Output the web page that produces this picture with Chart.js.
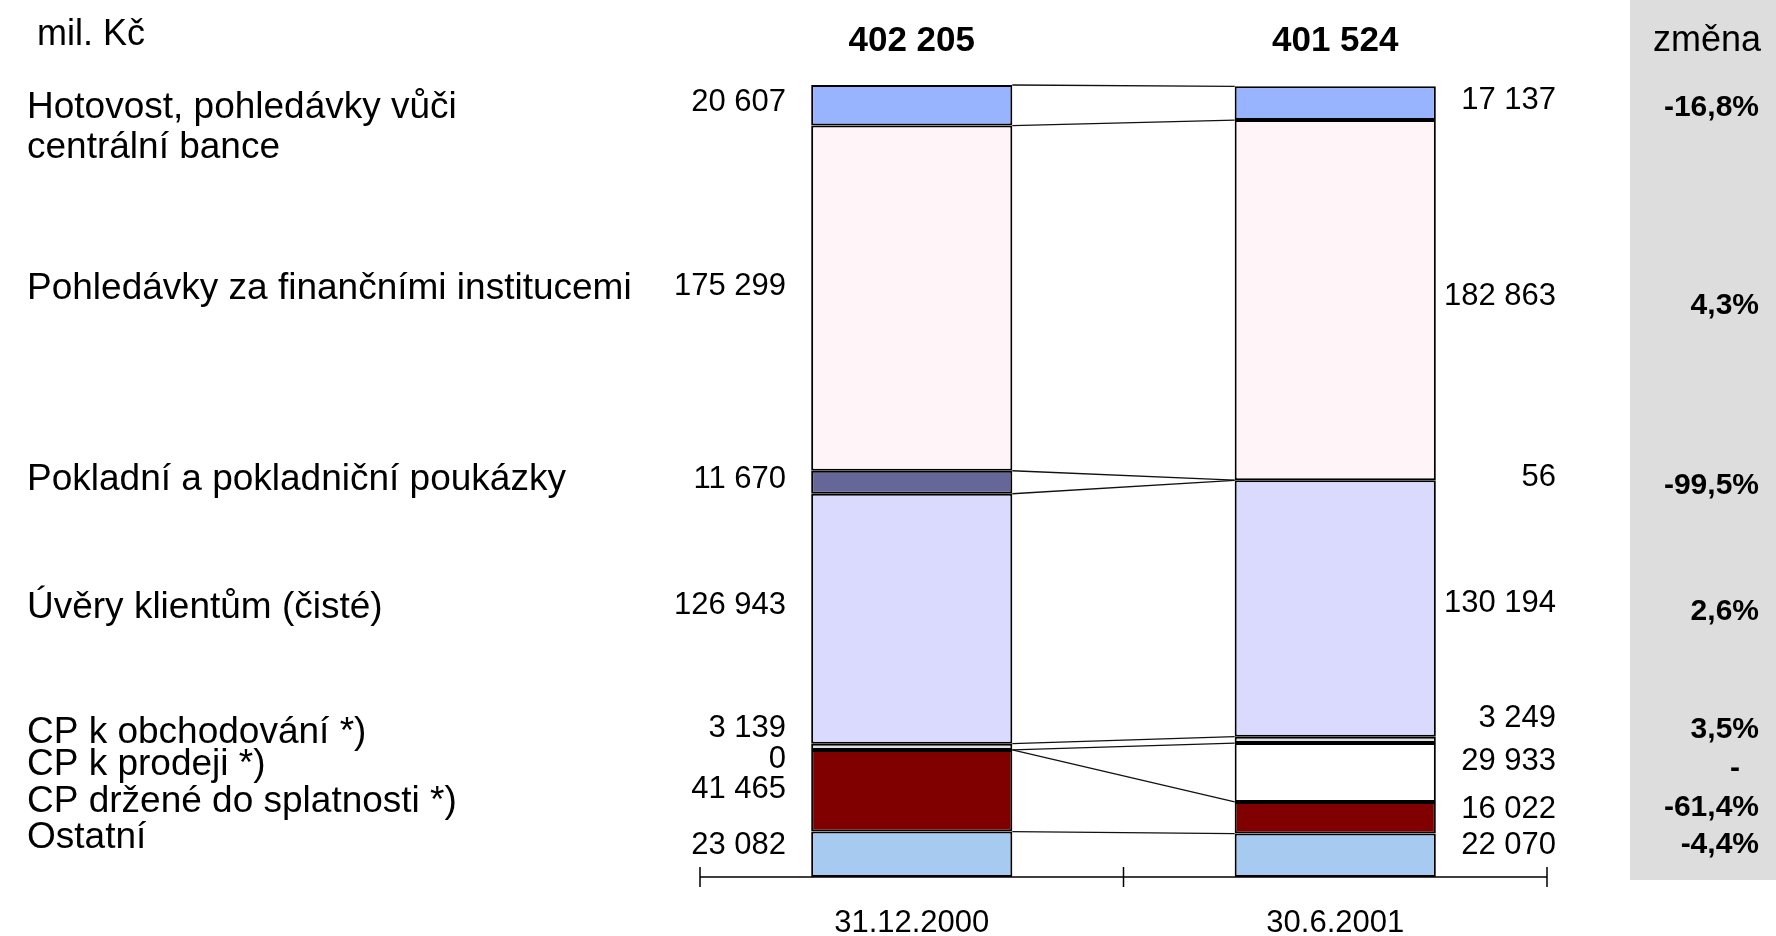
<!DOCTYPE html>
<html>
<head>
<meta charset="utf-8">
<script src="https://cdn.jsdelivr.net/npm/chart.js@4"></script>
<style>
  html, body { margin: 0; padding: 0; background: #fff; }
</style>
</head>
<body>
<canvas id="assetsChart" width="1776" height="936"></canvas>
<script>
// rows top to bottom, as they are listed in the picture
var categories = [
  ['Hotovost, pohledávky vůči', 'centrální bance'],
  ['Pohledávky za finančními institucemi'],
  ['Pokladní a pokladniční poukázky'],
  ['Úvěry klientům (čisté)'],
  ['CP k obchodování *)'],
  ['CP k prodeji *)'],
  ['CP držené do splatnosti *)'],
  ['Ostatní']
];
var dates = ['31.12.2000', '30.6.2001'];
var values2000 = [20607, 175299, 11670, 126943, 3139, 0, 41465, 23082];
var values2001 = [17137, 182863, 56, 130194, 3249, 29933, 16022, 22070];
var changes = ['-16,8%', '4,3%', '-99,5%', '2,6%', '3,5%', '-', '-61,4%', '-4,4%'];

var colors = ['#99b4ff', '#fff5f8', '#666699', '#dadaff', '#e0e0e0', '#ffffff', '#800000', '#a6caf0'];

// text placement (px) - the labels in the original are not centred on the segments
var labelY = [[108, 148], [289], [480], [608], [733], [765], [802], [838]];
var leftValueY = [102, 286, 479, 605, 728, 759, 789, 845];
var rightValueY = [100, 296, 477, 603, 718, 761, 809, 845];
var changeY = [108, 306, 486, 612, 730, 769, 808, 845];

var FONT = "'Liberation Sans', Arial, sans-serif";

function fmt(v) {
  return String(v).replace(/\B(?=(\d{3})+(?!\d))/g, ' ');
}
function sum(a) {
  return a.reduce(function (s, v) { return s + v; }, 0);
}
var totals = [sum(values2000), sum(values2001)];

// stacked bottom-up, so the last row goes first
var datasets = [];
for (var i = categories.length - 1; i >= 0; i--) {
  datasets.push({
    label: categories[i].join(' '),
    data: [values2000[i], values2001[i]],
    backgroundColor: colors[i],
    borderColor: '#000',
    borderWidth: 2,
    borderSkipped: false
  });
}

var decor = {
  id: 'decor',
  beforeDraw: function (chart) {
    var c = chart.ctx;
    c.save();
    c.fillStyle = '#dddddd';
    c.fillRect(1630, 0, 146, 880);
    c.restore();
  },
  afterDatasetsDraw: function (chart) {
    var c = chart.ctx;
    var area = chart.chartArea;
    var xs = chart.scales.x;
    c.save();
    // lines joining the segment edges of both bars
    c.strokeStyle = '#111';
    c.lineWidth = 1.3;
    chart.data.datasets.forEach(function (ds, i) {
      var m = chart.getDatasetMeta(i).data;
      var a = m[0], b = m[1];
      c.beginPath();
      c.moveTo(a.x + a.width / 2, a.y);
      c.lineTo(b.x - b.width / 2, b.y);
      c.stroke();
    });
    // axis line and ticks
    c.strokeStyle = '#000';
    c.lineWidth = 1.5;
    c.beginPath();
    c.moveTo(xs.left, area.bottom);
    c.lineTo(xs.right, area.bottom);
    var mid = (xs.getPixelForValue(0) + xs.getPixelForValue(1)) / 2;
    [xs.left, mid, xs.right].forEach(function (x) {
      c.moveTo(x, area.bottom - 10);
      c.lineTo(x, area.bottom + 10);
    });
    c.stroke();
    c.restore();
  },
  afterDraw: function (chart) {
    var c = chart.ctx;
    var xs = chart.scales.x;
    c.save();
    c.fillStyle = '#000';
    c.textBaseline = 'middle';

    c.font = '36px ' + FONT;
    c.textAlign = 'left';
    c.fillText('mil. Kč', 37, 35);

    c.font = '37px ' + FONT;
    categories.forEach(function (lines, i) {
      lines.forEach(function (t, j) {
        c.fillText(t, 27, labelY[i][j]);
      });
    });

    c.font = '31px ' + FONT;
    c.textAlign = 'right';
    values2000.forEach(function (v, i) {
      c.fillText(fmt(v), 786, leftValueY[i]);
    });
    values2001.forEach(function (v, i) {
      c.fillText(fmt(v), 1556, rightValueY[i]);
    });

    c.font = 'bold 35px ' + FONT;
    c.textAlign = 'center';
    totals.forEach(function (t, i) {
      c.fillText(fmt(t), xs.getPixelForValue(i), 41);
    });

    c.font = '36px ' + FONT;
    c.fillText('změna', 1707, 41);

    c.font = 'bold 30px ' + FONT;
    c.textAlign = 'right';
    changes.forEach(function (t, i) {
      // the lone dash sits further left in the original
      c.fillText(t, t === '-' ? 1740 : 1759, changeY[i]);
    });
    c.restore();
  }
};

new Chart(document.getElementById('assetsChart'), {
  type: 'bar',
  data: {
    labels: dates,
    datasets: datasets
  },
  options: {
    responsive: false,
    animation: false,
    layout: {
      padding: { left: 700, right: 229, top: 85, bottom: 0 }
    },
    plugins: {
      legend: { display: false },
      tooltip: { enabled: false }
    },
    datasets: {
      bar: { categoryPercentage: 1, barPercentage: 0.475 }
    },
    scales: {
      x: {
        stacked: true,
        grid: { display: false, drawTicks: false },
        border: { display: false },
        ticks: {
          color: '#000',
          padding: 28,
          font: { family: FONT, size: 31, lineHeight: 1.2 }
        },
        afterFit: function (scale) { scale.height = 59; }
      },
      y: {
        stacked: true,
        display: false,
        min: 0,
        max: totals[0]
      }
    }
  },
  plugins: [decor]
});
</script>
</body>
</html>
